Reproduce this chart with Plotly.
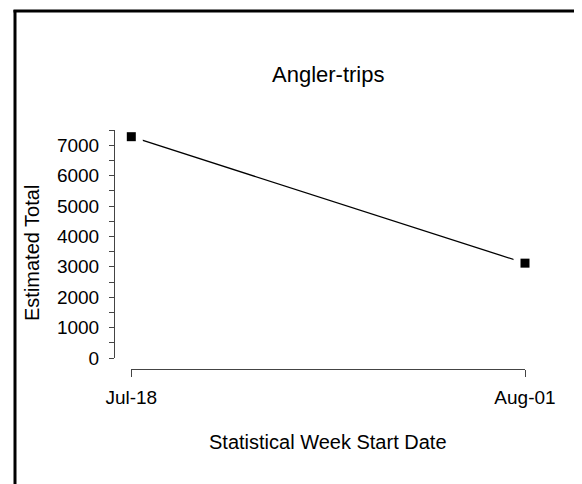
import plotly.graph_objects as go

# Data
weeks = ["Jul-18", "Aug-01"]
estimated_total = [7280, 3120]
y_tick_values = [0, 1000, 2000, 3000, 4000, 5000, 6000, 7000]
y_tick_labels = ["0", "1000", "2000", "3000", "4000", "5000", "6000", "7000"]

W, H = 582, 484
FONT = "Liberation Sans, Arial, sans-serif"
AXC = "#444444"


def px(x):
    return x / W


def py(y):
    return 1 - y / H


fig = go.Figure()

# connecting line
fig.add_trace(go.Scatter(x=weeks, y=estimated_total, mode="lines",
                         line=dict(color="black", width=1.3),
                         hoverinfo="skip", cliponaxis=False))
# white gap around points (R type="b" look)
fig.add_trace(go.Scatter(x=weeks, y=estimated_total, mode="markers",
                         marker=dict(symbol="square", size=23, color="white",
                                     line=dict(width=0)),
                         hoverinfo="skip", cliponaxis=False))
# points
fig.add_trace(go.Scatter(x=weeks, y=estimated_total, mode="markers",
                         marker=dict(symbol="square", size=9, color="black",
                                     line=dict(width=0)),
                         cliponaxis=False))

fig.update_layout(
    width=W, height=H,
    margin=dict(l=0, r=0, t=0, b=0),
    paper_bgcolor="white", plot_bgcolor="white",
    showlegend=False,
    font=dict(family=FONT, size=19, color="black"),
    xaxis=dict(
        type="category", domain=[px(123.3), px(517)], range=[0, 1],
        anchor="free", position=py(361),
        showline=True, linecolor=AXC, linewidth=1,
        ticks="outside", ticklen=7, tickcolor=AXC, tickwidth=1,
        showgrid=False, zeroline=False, automargin=False,
        tickfont=dict(family=FONT, size=19, color="black"),
        ticklabelstandoff=4,
    ),
    yaxis=dict(
        domain=[py(350), py(122)], range=[0, 7500.01],
        anchor="free", position=px(106),
        showline=True, linecolor=AXC, linewidth=1,
        tickmode="array", tickvals=y_tick_values, ticktext=y_tick_labels,
        ticks="outside", ticklen=5, tickcolor=AXC, tickwidth=1,
        minor=dict(dtick=500, ticks="outside", ticklen=5, tickcolor=AXC,
                   tickwidth=1, showgrid=False),
        showgrid=False, zeroline=False, automargin=False,
        tickfont=dict(family=FONT, size=19, color="black"),
        ticklabelstandoff=6,
    ),
    annotations=[
        dict(text="Angler-trips", x=px(320), y=py(66), xref="paper", yref="paper",
             showarrow=False, xanchor="center", yanchor="middle",
             font=dict(family=FONT, size=22, color="black")),
        dict(text="Statistical Week Start Date", x=px(320), y=py(434),
             xref="paper", yref="paper", showarrow=False,
             xanchor="center", yanchor="middle",
             font=dict(family=FONT, size=20, color="black")),
        dict(text="Estimated Total", x=px(24), y=py(245), xref="paper", yref="paper",
             showarrow=False, xanchor="center", yanchor="middle", textangle=-90,
             font=dict(family=FONT, size=20, color="black")),
    ],
    shapes=[
        dict(type="line", xref="paper", yref="paper", x0=px(7), x1=px(7),
             y0=py(2), y1=py(484), line=dict(color="black", width=3)),
        dict(type="line", xref="paper", yref="paper", x0=px(5.5), x1=1,
             y0=py(3), y1=py(3), line=dict(color="black", width=3)),
    ],
)

fig.write_html("out.html")
